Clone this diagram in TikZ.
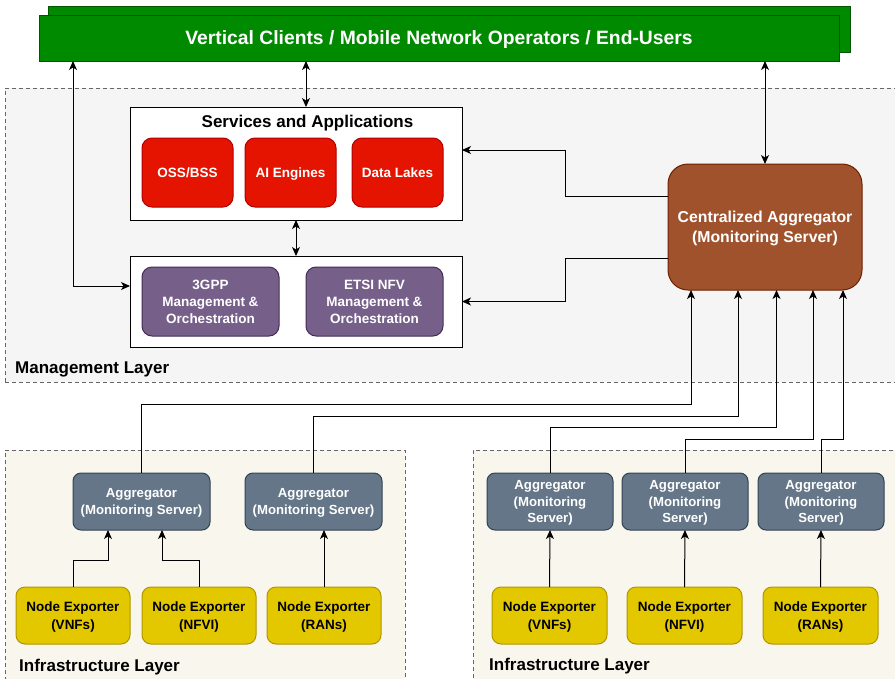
\documentclass[tikz,border=0pt]{standalone}
\usepackage{fontspec}
\setmainfont{Liberation Sans}
\usetikzlibrary{arrows.meta}

\definecolor{bannerfill}{HTML}{008A00}
\definecolor{bannerline}{HTML}{005700}
\definecolor{mgmtfill}{HTML}{F5F5F5}
\definecolor{infrafill}{HTML}{F9F7ED}
\definecolor{layerline}{HTML}{666666}
\definecolor{appfill}{HTML}{E51400}
\definecolor{appline}{HTML}{B20000}
\definecolor{mnofill}{HTML}{76608A}
\definecolor{mnoline}{HTML}{432D57}
\definecolor{centralfill}{HTML}{A0522D}
\definecolor{centralline}{HTML}{6D1F00}
\definecolor{aggfill}{HTML}{647687}
\definecolor{aggline}{HTML}{314354}
\definecolor{expfill}{HTML}{E3C800}
\definecolor{expline}{HTML}{B09500}

% struts with the font's ascent and descent, so that text blocks are
% centred on their line boxes rather than on their visible glyphs
\newcommand\ascentstrut{\rule{0pt}{0.905em}}
\newcommand\descentstrut{\rule[-0.212em]{0pt}{0pt}}
\newcommand\boxed[1]{\ascentstrut#1\descentstrut}

\begin{document}
\begin{tikzpicture}[x=1pt,y=-1pt,
  box/.style={draw, line width=1pt, inner sep=0pt, outer sep=0pt,
    anchor=north west},
  boxtext/.style={inner sep=0pt, align=center},
  layerbox/.style={box, draw=layerline, dash pattern=on 4pt off 3pt},
  banner/.style={box, fill=bannerfill, draw=bannerline},
  bannertext/.style={boxtext, text=white,
    font=\fontsize{19.3}{22}\selectfont\bfseries},
  frame/.style={box, fill=white, draw=black},
  appbox/.style={box, rounded corners=10pt, fill=appfill, draw=appline,
    minimum width=91pt, minimum height=69pt,
    label={[boxtext, text=white,
      font=\fontsize{13.5}{17}\selectfont\bfseries]center:\boxed{#1}}},
  mnobox/.style={box, rounded corners=10pt, fill=mnofill, draw=mnoline,
    minimum width=137pt, minimum height=69pt,
    label={[boxtext, text=white,
      font=\fontsize{13.5}{17}\selectfont\bfseries]center:\boxed{#1}}},
  centralbox/.style={box, rounded corners=20pt, fill=centralfill,
    draw=centralline,
    label={[boxtext, text=white,
      font=\fontsize{15.8}{19.5}\selectfont\bfseries]center:\boxed{#1}}},
  aggbox/.style={box, rounded corners=8pt, fill=aggfill, draw=aggline,
    minimum height=57pt,
    label={[boxtext, text=white,
      font=\fontsize{13.2}{16.8}\selectfont\bfseries]center:\boxed{#1}}},
  expbox/.style={box, rounded corners=9pt, fill=expfill, draw=expline,
    minimum width=115pt, minimum height=57pt,
    label={[boxtext, text=black,
      font=\fontsize{13.5}{18}\selectfont\bfseries]center:\boxed{#1}}},
  heading/.style={inner sep=0pt, font=\fontsize{17}{20}\selectfont\bfseries},
  link/.style={line width=1pt, draw=black},
  tip/.tip={Stealth[length=9pt,width=8pt,inset=2.5pt]},
  arr/.style={link, -tip},
  biarr/.style={link, tip-tip}
]
\useasboundingbox (0,0) rectangle (895,678);
\clip (0,0) rectangle (895,678);

% layer backgrounds
\node[layerbox, fill=mgmtfill, minimum width=905pt, minimum height=294pt]
  (mgmtlayer) at (5,88) {};
\node[layerbox, fill=infrafill, minimum width=400pt, minimum height=240pt]
  (infraL) at (5,450) {};
\node[layerbox, fill=infrafill, minimum width=440pt, minimum height=240pt]
  (infraR) at (473,450) {};
\node[heading, anchor=west] (mgmtlabel) at (15,369) {Management Layer};
\node[heading, anchor=west] (infraLlabel) at (19,667) {Infrastructure Layer};
\node[heading, anchor=west] (infraRlabel) at (489,666) {Infrastructure Layer};

% users banner (stacked)
\node[banner, minimum width=802pt, minimum height=46pt] (bannerback) at (48,6) {};
\node[banner, minimum width=800pt, minimum height=46pt] (banner) at (39,15) {};
\node[bannertext] (bannerlabel) at (banner.center)
  {\boxed{Vertical Clients / Mobile Network Operators / End-Users}};

% services and applications
\node[frame, minimum width=332pt, minimum height=113pt] (services) at (130,107) {};
\node[heading] (servtitle) at (307.5,123) {Services and Applications};
\node[appbox={OSS/BSS}] (oss) at (142,138) {};
\node[appbox={AI Engines}] (ai) at (245,138) {};
\node[appbox={Data Lakes}] (lakes) at (352,138) {};

% management and orchestration
\node[frame, minimum width=332pt, minimum height=91pt] (mano) at (130,256) {};
\node[mnobox={3GPP\\Management \&\\Orchestration}] (gpp) at (142,267) {};
\node[mnobox={ETSI NFV\\Management \&\\Orchestration}] (etsi) at (306,267) {};

% centralized aggregator
\node[centralbox={Centralized Aggregator\\(Monitoring Server)},
  minimum width=194pt, minimum height=126pt] (central) at (668,164) {};

% aggregators
\node[aggbox={Aggregator\\(Monitoring Server)}, minimum width=137pt] (aggA) at (73,473) {};
\node[aggbox={Aggregator\\(Monitoring Server)}, minimum width=137pt] (aggB) at (245,473) {};
\node[aggbox={Aggregator\\(Monitoring\\Server)}, minimum width=126pt] (aggC) at (487,473) {};
\node[aggbox={Aggregator\\(Monitoring\\Server)}, minimum width=126pt] (aggD) at (622,473) {};
\node[aggbox={Aggregator\\(Monitoring\\Server)}, minimum width=126pt] (aggE) at (758,473) {};

% node exporters
\node[expbox={Node Exporter\\(VNFs)}, minimum width=114pt] (expA) at (16,587) {};
\node[expbox={Node Exporter\\(NFVI)}, minimum width=114pt] (expB) at (142,587) {};
\node[expbox={Node Exporter\\(RANs)}, minimum width=114pt] (expC) at (267,587) {};
\node[expbox={Node Exporter\\(VNFs)}] (expD) at (492,587) {};
\node[expbox={Node Exporter\\(NFVI)}] (expE) at (627,587) {};
\node[expbox={Node Exporter\\(RANs)}] (expF) at (763,587) {};

% banner links
\draw[biarr] ([xshift=10pt]services.north) -- ([xshift=10pt]services.north |- banner.south);
\draw[biarr] (central.north) -- (central.north |- banner.south);
\draw[biarr] ([yshift=15.5pt]mano.west) -| ([xshift=34pt]banner.south west);
\draw[biarr] (services.south) -- (mano.north);

% central aggregator feeds the management layer
\draw[arr] ([yshift=31pt]central.west) -- ++(-103,0) |- ([yshift=13.5pt]services.east);
\draw[arr] ([yshift=-31pt]central.west) -- ++(-103,0) |- (mano.east);

% aggregators report to the central aggregator
\draw[arr] (aggA.north) -- ++(0,-69) -| ([xshift=23pt]central.south west);
\draw[arr] (aggB.north) -- ++(0,-57) -| ([xshift=70pt]central.south west);
\draw[arr] (aggC.north) -- ++(0,-46) -| ([xshift=108.5pt]central.south west);
\draw[arr] (aggD.north) -- ++(0,-34) -| ([xshift=145pt]central.south west);
\draw[arr] (aggE.north) -- ++(0,-34) -| ([xshift=175pt]central.south west);

% exporters feed their aggregators
\draw[arr] (expA.north) -- ++(0,-27) -| ([xshift=-33.5pt]aggA.south);
\draw[arr] (expB.north) -- ++(0,-27) -| ([xshift=20.5pt]aggA.south);
\draw[arr] (expC.north) -- (expC.north |- aggB.south);
\draw[arr] (expD.north) -- (aggC.south);
\draw[arr] (expE.north) -- (aggD.south);
\draw[arr] (expF.north) -- (aggE.south);
\end{tikzpicture}
\end{document}
